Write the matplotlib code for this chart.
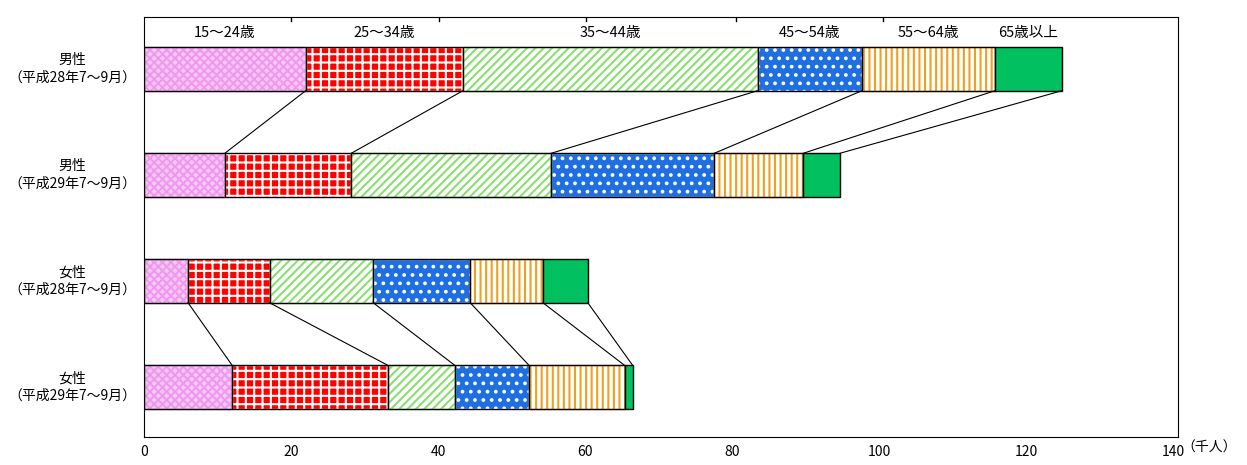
import matplotlib
matplotlib.use("Agg")
import matplotlib.pyplot as plt
import numpy as np

plt.rcParams['font.family'] = ['Noto Sans CJK JP', 'DejaVu Sans']
plt.rcParams['hatch.linewidth'] = 1.5

ages = ["15～24歳", "25～34歳", "35～44歳", "45～54歳", "55～64歳", "65歳以上"]
rows = ["男性\n（平成28年7～9月）", "男性\n（平成29年7～9月）", "女性\n（平成28年7～9月）", "女性\n（平成29年7～9月）"]
male28 = [22.0, 21.4, 40.1, 14.2, 18.1, 9.1]
male29 = [11.0, 17.2, 27.2, 22.2, 12.1, 5.0]
female28 = [6.0, 11.1, 14.1, 13.2, 9.9, 6.1]
female29 = [12.0, 21.2, 9.1, 10.1, 13.0, 1.1]
data = [male28, male29, female28, female29]

faces = ['#f9c8f4', 'red', 'white', '#1f6fe0', 'white', '#00c060']
hcols = ['#ee99ee', 'white', '#88e070', 'white', '#f0a020', None]
hatches = ['xxxx', '++', '////', '..', '|||', None]

fig = plt.figure(figsize=(12.47, 4.65), dpi=100)
ax = fig.add_axes([144/1247, 28/465, 1034/1247, 420/465])
h = 0.41
for i, vals in enumerate(data):
    left = 0
    for j, v in enumerate(vals):
        ax.barh(i, v, left=left, height=h, color=faces[j], edgecolor='none',
                hatch=hatches[j] if hatches[j] else None)
        if hcols[j]:
            ax.patches[-1].set_edgecolor(hcols[j])
        ax.barh(i, v, left=left, height=h, fill=False, edgecolor='black', linewidth=1)
        left += v
for i in [0, 2]:
    c1 = np.cumsum(data[i]); c2 = np.cumsum(data[i+1])
    for a, b in zip(c1, c2):
        ax.plot([a, b], [i + h/2, i + 1 - h/2], color='black', lw=0.8)
cum = np.concatenate([[0], np.cumsum(male28)])
for j, lab in enumerate(ages):
    ax.text((cum[j]+cum[j+1])/2, -0.34, lab, ha='center', va='center', fontsize=10.5)

top, bot = -0.49, 3.47
ax.set_xlim(0, 140.7)
ax.set_ylim(bot, top)
ax.set_yticks([])
trans = ax.get_yaxis_transform()
for i, r in enumerate(rows):
    ax.text(-72/1034, i, r, transform=trans, ha='center', va='center',
            fontsize=10, linespacing=1.3, multialignment='center')
ax.set_xticks(range(0, 141, 20))
ax.set_xticklabels([str(v) for v in range(0, 141, 20)], fontsize=10)
ax.tick_params(axis='x', length=0, pad=6)
for x in [20, 40.1, 60.2, 80.5, 100.6]:
    ax.plot([x, x], [top, top + 0.04], color='black', lw=1)
ax.text(141.2, bot + 0.03, '（千人）', ha='left', va='top', fontsize=10)
fig.savefig('out.png')
